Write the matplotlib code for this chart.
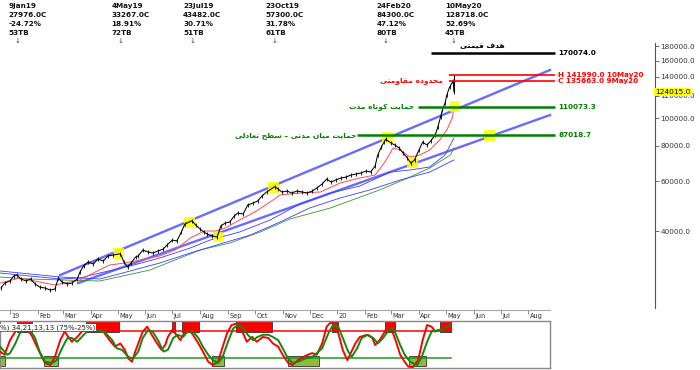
import matplotlib
matplotlib.use("Agg")
import matplotlib.pyplot as plt
import matplotlib.dates as mdates
import matplotlib.transforms as mtransforms
from matplotlib.patches import Rectangle
import pandas as pd

BASE = pd.Timestamp("2019-01-01")

# daily closes (days counted from 1 Jan 2019)
price_day = [-10, -6, 0, 4, 8, 12, 18, 23, 28, 33,
             39, 45, 50, 54, 58, 64, 69, 75, 78, 82,
             87, 93, 98, 104, 109, 115, 123, 127, 131, 135,
             140, 143, 148, 154, 159, 165, 171, 175, 181, 186,
             191, 195, 203, 207, 212, 216, 220, 225, 231, 235,
             240, 245, 250, 254, 260, 265, 271, 276, 281, 286,
             295, 299, 303, 309, 314, 320, 326, 331, 337, 342,
             348, 353, 358, 363, 369, 375, 380, 386, 391, 397,
             402, 407, 410, 414, 417, 419, 425, 429, 434, 438,
             443, 447, 451, 456, 460, 465, 469, 474, 477, 480,
             482, 485, 487, 490, 494, 495]
price_close = [25160, 26200, 26640, 27740, 27976, 27080, 26640, 27080, 26000, 25370,
               25160, 24750, 24960, 27300, 26420, 26000, 26200, 27080, 28660, 30100,
               31090, 30590, 31860, 31340, 32640, 32900, 33267, 31090, 29850, 30840,
               32380, 32640, 34280, 33720, 33450, 34000, 34560, 35700, 37170, 36880,
               39680, 42340, 43482, 42000, 40660, 39680, 39040, 38410, 38100, 41660,
               42690, 43040, 45190, 46300, 45930, 49420, 50220, 51050, 53160, 54930,
               57300, 56280, 54930, 55370, 54480, 55370, 54930, 54480, 55370, 56740,
               58620, 61040, 59570, 60560, 61540, 62050, 63060, 63580, 64090, 65150,
               64620, 67820, 74250, 79250, 82390, 84300, 81760, 80500, 78550, 75530,
               72410, 69490, 71280, 77300, 82390, 80500, 83180, 87300, 93170, 101050,
               106960, 113250, 120850, 128718, 135663, 124015]
last_high = 141990.0

ma_red_day = [-11, 11, 33, 50, 61, 78, 95, 111, 128, 145, 167, 184, 201, 217, 229, 240, 256, 273,
              290, 301, 323, 346, 368, 390, 407, 418, 427, 435, 446, 457, 468, 479, 487, 493, 495]
ma_red = [26200, 27300, 26420, 25790, 26200, 26870, 28660, 30340, 30840, 31600, 32640, 34280,
          37790, 40000, 40000, 40990, 43740, 46680, 50640, 53600, 54480, 54930, 59090, 61540,
          63060, 70090, 78550, 77300, 72990, 74250, 77300, 83860, 90970, 100240, 108730]
ma_blue1_day = [-11, 22, 56, 78, 100, 134, 167, 201, 223, 256, 290, 323, 357, 390, 424, 446, 468, 485, 495]
ma_blue1 = [28430, 27740, 27080, 27300, 28430, 30100, 32120, 34840, 37170, 39680, 43740, 49820,
            54480, 57670, 64620, 65700, 67320, 74250, 85190]
ma_blue2_day = [-11, 56, 100, 134, 167, 201, 234, 268, 301, 334, 368, 401, 435, 468, 495]
ma_blue2 = [28900, 27520, 27080, 28900, 30840, 33450, 35990, 38720, 43040, 48220, 52310, 55840,
            60560, 64620, 71280]
ma_green_day = [-11, 22, 56, 100, 156, 212, 245, 279, 312, 357, 412, 446, 468, 491, 495]
ma_green = [27520, 27080, 26870, 26640, 29130, 34280, 36280, 39680, 44100, 48220, 55840, 62050,
            66770, 74250, 78550]

chan_up_day = [56, 602]
chan_up = [27976, 148100]
chan_lo_day = [76, 602]
chan_lo = [26200, 102700]

hl_day = [121, 200, 232, 294, 421, 449, 496, 535]
hl_price = [33267, 43000, 38100, 57000, 85500, 69490, 110073, 87019]

level_value = [170074.0, 141990.0, 135663.0, 110073.3, 87018.7]
level_text = ["170074.0", "H 141990.0 10May20", "C 135663.0 9May20", "110073.3", "87018.7"]
level_start = [469, 489, 489, 455, 387]
level_end = 608
level_color = ["black", "#ff0000", "#ff0000", "#008000", "#008000"]

ann_date = ["2019-01-09", "2019-05-04", "2019-07-23", "2019-10-23", "2020-02-24", "2020-05-10"]
ann_close = [27976.0, 33267.0, 43482.0, 57300.0, 84300.0, 128718.0]
ann_pct = [-24.72, 18.91, 30.71, 31.78, 47.12, 52.69]
ann_tb = [53, 72, 51, 61, 80, 45]

price_ticks = [40000, 60000, 80000, 100000, 120000, 140000, 160000, 180000]
last_price = 124015.0

# stochastic (34,21,13,13)
stoch_k_day = [-11, -6, 0, 6, 9, 19, 25, 30, 36, 39, 45, 50, 56, 61, 65, 69, 75, 80, 87, 97,
               104, 111, 117, 123, 128, 132, 136, 139, 143, 148, 153, 158, 164, 169, 173, 176, 181, 184, 190, 195,
               198, 204, 210, 215, 221, 226, 232, 236, 242, 247, 253, 259, 264, 270, 275, 282, 288, 293, 299, 304,
               310, 315, 321, 327, 332, 337, 342, 348, 353, 357, 360, 366, 371, 376, 379, 385, 390, 398, 404, 407,
               412, 418, 421, 427, 431, 435, 440, 444, 449, 455, 460, 465, 470, 474, 479, 485, 491]
stoch_k = [37, 31, 58, 74, 80, 80, 64, 46, 25, 16, 12, 27, 58, 74, 64, 55, 64, 74, 80, 77,
           74, 58, 46, 52, 40, 24, 18, 34, 52, 74, 83, 68, 52, 40, 49, 64, 77, 71, 58, 74,
           80, 68, 52, 37, 18, 12, 18, 40, 71, 86, 89, 74, 55, 64, 55, 64, 62, 52, 46, 31,
           16, 12, 21, 27, 31, 34, 31, 52, 83, 90, 89, 71, 40, 21, 31, 52, 64, 68, 62, 49,
           58, 74, 83, 71, 52, 31, 18, 9, 8, 21, 58, 86, 83, 74, 77, 83, 84]
stoch_d_day = [-11, -3, 0, 6, 11, 17, 22, 28, 33, 39, 47, 52, 58, 64, 69, 75, 80, 87, 97, 106,
               114, 119, 125, 132, 137, 143, 148, 154, 159, 165, 171, 176, 182, 187, 193, 198, 204, 210, 215, 221,
               226, 232, 237, 243, 249, 254, 260, 265, 271, 276, 282, 288, 293, 299, 304, 310, 315, 321, 329, 337,
               342, 348, 355, 360, 366, 371, 377, 381, 387, 392, 399, 405, 410, 416, 421, 426, 429, 435, 440, 446,
               454, 459, 465, 470, 476, 482, 487, 492]
stoch_d = [46, 31, 34, 52, 71, 79, 77, 62, 37, 18, 16, 21, 43, 62, 62, 55, 64, 76, 77, 72,
           58, 43, 40, 27, 24, 37, 62, 77, 74, 58, 37, 40, 62, 68, 64, 74, 74, 62, 46, 31,
           21, 16, 27, 55, 80, 86, 80, 68, 58, 64, 68, 68, 64, 58, 43, 24, 16, 18, 24, 27,
           34, 43, 71, 86, 83, 62, 37, 27, 43, 62, 68, 62, 52, 62, 74, 80, 74, 49, 31, 18,
           12, 27, 55, 74, 76, 77, 83, 86]
red_zone_start = [8, 85, 181, 192, 252, 359, 418, 479]
red_zone_end = [25, 122, 184, 211, 292, 366, 429, 492]
green_zone_start = [-11, 38, 225, 310, 445]
green_zone_end = [-6, 54, 239, 344, 464]
stoch_levels = [75, 25]
month_labels = ["19", "Feb", "Mar", "Apr", "May", "Jun", "Jul", "Aug", "Sep", "Oct", "Nov", "Dec",
                "20", "Feb", "Mar", "Apr", "May", "Jun", "Jul", "Aug"]


def days(d):
    return BASE + pd.to_timedelta(d, unit="D")


FORMS = {
    "ا": ("\ufe8d", "\ufe8e", None, None), "ت": ("\ufe95", "\ufe96", "\ufe97", "\ufe98"),
    "ح": ("\ufea1", "\ufea2", "\ufea3", "\ufea4"), "د": ("\ufea9", "\ufeaa", None, None),
    "س": ("\ufeb1", "\ufeb2", "\ufeb3", "\ufeb4"), "ط": ("\ufec1", "\ufec2", "\ufec3", "\ufec4"),
    "ع": ("\ufec9", "\ufeca", "\ufecb", "\ufecc"), "ف": ("\ufed1", "\ufed2", "\ufed3", "\ufed4"),
    "ق": ("\ufed5", "\ufed6", "\ufed7", "\ufed8"), "ک": ("\ufb8e", "\ufb8f", "\ufb90", "\ufb91"),
    "ل": ("\ufedd", "\ufede", "\ufedf", "\ufee0"), "م": ("\ufee1", "\ufee2", "\ufee3", "\ufee4"),
    "ن": ("\ufee5", "\ufee6", "\ufee7", "\ufee8"), "ه": ("\ufee9", "\ufeea", "\ufeeb", "\ufeec"),
    "و": ("\ufeed", "\ufeee", None, None), "ی": ("\ufbfc", "\ufbfd", "\ufbfe", "\ufbff"),
}


def persian(s):
    # matplotlib has no text shaping, so pick joined forms and reverse for RTL
    out = []
    for i, ch in enumerate(s):
        if ch not in FORMS:
            out.append(ch)
            continue
        prev = s[i - 1] if i > 0 else ""
        nxt = s[i + 1] if i + 1 < len(s) else ""
        jp = prev in FORMS and FORMS[prev][2] is not None
        jn = FORMS[ch][2] is not None and nxt in FORMS
        iso, fin, ini, med = FORMS[ch]
        out.append(med if (jp and jn) else fin if jp else ini if jn else iso)
    return "".join(reversed(out))


W, H = 700, 370
fig = plt.figure(figsize=(7, 3.7), dpi=100)
ax = fig.add_axes([0, 1 - 308 / H, 655 / W, (308 - 43) / H])
ax.set_yscale("log")
ax.set_ylim(21390, 184500)
ax.set_xlim(days(-11.15), days(719.1))
for s in ["top", "left", "bottom"]:
    ax.spines[s].set_visible(False)
ax.spines["right"].set_color("#555555")
ax.yaxis.tick_right()
ax.set_yticks(price_ticks)
ax.set_yticklabels([f"{v:.1f}" for v in price_ticks])
ax.yaxis.set_minor_locator(matplotlib.ticker.NullLocator())
ax.tick_params(axis="y", direction="out", length=3, width=0.6, color="#555555",
               labelsize=5.2, labelcolor="#333333", pad=1)
ax.set_xticks([])

# channel
ax.plot(days(chan_up_day), chan_up, color="#6a6aff", lw=1.7, zorder=2)
ax.plot(days(chan_lo_day), chan_lo, color="#6a6aff", lw=1.7, zorder=2)

# moving averages
ax.plot(days(ma_green_day), ma_green, color="#2e9a2e", lw=0.6, zorder=3)
ax.plot(days(ma_blue2_day), ma_blue2, color="#3c3cff", lw=0.6, zorder=3)
ax.plot(days(ma_blue1_day), ma_blue1, color="#3c3cff", lw=0.6, zorder=3)
ax.plot(days(ma_red_day), ma_red, color="#ff4a4a", lw=0.7, zorder=3)

# highlights
ax.scatter(days(hl_day), hl_price, s=60, marker="s", color="#ffff00", alpha=0.85,
           edgecolors="none", zorder=4)

# price
ax.plot(days(price_day), price_close, color="black", lw=0.75, marker="|", ms=2.2, mew=0.6, zorder=5)
ax.vlines(days(price_day[-1]), price_close[-1], last_high, color="black", lw=0.8, zorder=5)

# levels
for v, t, st, c in zip(level_value, level_text, level_start, level_color):
    lw = 1.2 if c == "#ff0000" else 1.8
    ax.plot(days([st, level_end]), [v, v], color=c, lw=lw, zorder=6, solid_capstyle="butt")
    ax.annotate(t, (days(level_end), v), xytext=(2, 0), textcoords="offset points",
                ha="left", va="center", fontsize=5.2, fontweight="bold", color=c,
                annotation_clip=False)

ax.text(days(527), 180000, persian("هدف قیمتی"), ha="center", va="center",
        fontsize=5.4, fontweight="bold", color="black")
ax.text(days(448), 136500, persian("محدوده مقاومتی"), ha="center", va="center",
        fontsize=5.4, fontweight="bold", color="#ff0000")
ax.text(days(414), 109600, persian("حمایت کوتاه مدت"), ha="center", va="center",
        fontsize=5.4, fontweight="bold", color="#008000")
ax.text(days(319), 86600, persian("حمایت میان مدتی – سطح تعادلی"), ha="center", va="center",
        fontsize=5.4, fontweight="bold", color="#008000")

ax.text(1.0, last_price, f"{last_price:.1f}", transform=ax.get_yaxis_transform(),
        ha="left", va="center", fontsize=5.4, color="black",
        bbox=dict(boxstyle="square,pad=0.15", fc="#ffff00", ec="none"))

# top annotations
trans = mtransforms.blended_transform_factory(ax.transData, fig.transFigure)
shift = mtransforms.ScaledTranslation(-9 / 100, 0, fig.dpi_scale_trans)
for d, c, p, tb in zip(ann_date, ann_close, ann_pct, ann_tb):
    dd = pd.Timestamp(d)
    lines = [f"{dd.day}{dd:%b%y}", f"{c:.1f}C", f"{p:.2f}%", f"{tb}TB"]
    for k, ln in enumerate(lines):
        ax.text(dd, 1 - (6 + 9 * k) / H, ln, transform=trans + shift, ha="left", va="center",
                fontsize=5.2, fontweight="bold", color="#111111")
    ax.text(dd, 1 - 41 / H, "↓", transform=trans, ha="center", va="center",
            fontsize=5, color="#444444")

# date strip
axd = fig.add_axes([0, 1 - 321 / H, 550 / W, 11 / H])
axd.set_xlim(days(-11.15), days(602.0))
axd.set_ylim(0, 1)
for s in ["left", "right", "bottom"]:
    axd.spines[s].set_visible(False)
axd.spines["top"].set_color("#aaaaaa")
axd.set_yticks([])
months = pd.date_range("2019-01-01", "2020-08-01", freq="MS")
axd.set_xticks(months)
axd.xaxis.set_ticks_position("top")
axd.tick_params(axis="x", direction="in", length=3, width=0.6, color="#777777", labeltop=False)
for m, lab in zip(months, month_labels):
    axd.annotate(lab, (m, 0.45), xytext=(1, 0), textcoords="offset points", ha="left",
                 va="center", fontsize=4.8, color="#333333")

# stochastic panel
axs = fig.add_axes([0, 1 - 368 / H, 550 / W, (368 - 321) / H])
axs.set_xlim(days(-11.15), days(602.0))
axs.set_ylim(6.5, 93.5)
axs.set_xticks([])
axs.set_yticks([])
for s in axs.spines.values():
    s.set_color("#888888")
    s.set_linewidth(1)
for a, b in zip(red_zone_start, red_zone_end):
    x0 = mdates.date2num(days(a))
    axs.add_patch(Rectangle((x0, 74), mdates.date2num(days(b)) - x0, 20, fc="#ff0000",
                            ec="#333333", lw=0.6, zorder=2))
for a, b in zip(green_zone_start, green_zone_end):
    x0 = mdates.date2num(days(a))
    axs.add_patch(Rectangle((x0, 10), mdates.date2num(days(b)) - x0, 19, fc="#8fbc3a",
                            ec="#333333", lw=0.6, zorder=2))
axs.plot(days([-11, 492]), [stoch_levels[0]] * 2, color="#ff0000", lw=1.1, zorder=3)
axs.plot(days([-11, 492]), [stoch_levels[1]] * 2, color="#1a9a1a", lw=1.1, zorder=3)
axs.plot(days(stoch_k_day), stoch_k, color="#ff0000", lw=1.4, zorder=4)
axs.plot(days(stoch_d_day), stoch_d, color="#118811", lw=1.4, zorder=5)
axs.text(0.0, 0.93, "%) 34,21,13,13 (75%-25%)", transform=axs.transAxes, ha="left", va="top",
         fontsize=5, color="#222222", zorder=6,
         bbox=dict(boxstyle="square,pad=0.1", fc="white", ec="none"))

fig.savefig("out.png", dpi=100)
